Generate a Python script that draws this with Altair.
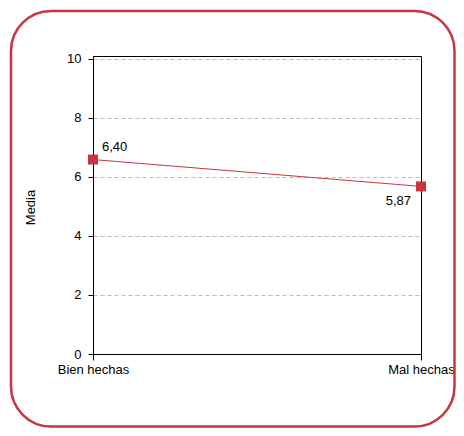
import altair as alt
import pandas as pd

categories = ["Bien hechas", "Mal hechas"]
values = [6.59, 5.68]
labels = ["6,40", "5,87"]
y_ticks = [0, 2, 4, 6, 8, 10]

df = pd.DataFrame({"cat": categories, "val": values, "label": labels})

RED = "#c8363f"
FONT = "Liberation Sans"

x_enc = alt.X("cat:N", sort=categories,
              scale=alt.Scale(type="point", padding=0),
              axis=alt.Axis(title=None, labelAngle=0, tickSize=6, labelPadding=3,
                            domainColor="black", tickColor="black", labelColor="black",
                            labelFontSize=13, labelFont=FONT, grid=False))
y_enc = alt.Y("val:Q", scale=alt.Scale(domain=[0, 10.1], nice=False),
              axis=alt.Axis(title="Media", values=y_ticks, tickSize=5, labelPadding=7,
                            domainColor="black", tickColor="black", labelColor="black",
                            labelFontSize=13, labelFont=FONT,
                            titleFont=FONT, titleFontSize=13, titleFontWeight="normal",
                            titleColor="black", titleX=-63, titleY=151, titleAngle=-90,
                            titleAlign="center", titleBaseline="middle",
                            grid=True, gridColor="#bbbbbb", gridDash=[4, 3], gridWidth=1))

base = alt.Chart(df)

frame = alt.Chart(pd.DataFrame({"a": [0]})).mark_rect(
    filled=False, stroke=RED, strokeWidth=2.5, cornerRadius=40, clip=False
).encode(x=alt.value(-82), x2=alt.value(361.5), y=alt.value(-45), y2=alt.value(370.5))

line = base.mark_line(color=RED, strokeWidth=1).encode(x=x_enc, y=y_enc)
pts = base.mark_point(shape="square", filled=True, size=100, color=RED, opacity=1).encode(x=x_enc, y=y_enc)
t1 = base.transform_filter(alt.datum.cat == categories[0]).mark_text(
    align="left", baseline="middle", dx=9, dy=-13, fontSize=13, font=FONT, color="black"
).encode(x=x_enc, y=y_enc, text="label:N")
t2 = base.transform_filter(alt.datum.cat == categories[1]).mark_text(
    align="right", baseline="middle", dx=-10, dy=15, fontSize=13, font=FONT, color="black"
).encode(x=x_enc, y=y_enc, text="label:N")

chart = alt.layer(line, pts, t1, t2, frame).properties(
    width=328, height=298,
    autosize=alt.AutoSizeParams(type="none"),
    padding={"left": 85, "top": 48, "right": 35, "bottom": 74},
    background="white",
).configure_view(stroke="black", strokeWidth=1)

chart.save("out.html", embed_options={"renderer": "svg", "actions": False})
